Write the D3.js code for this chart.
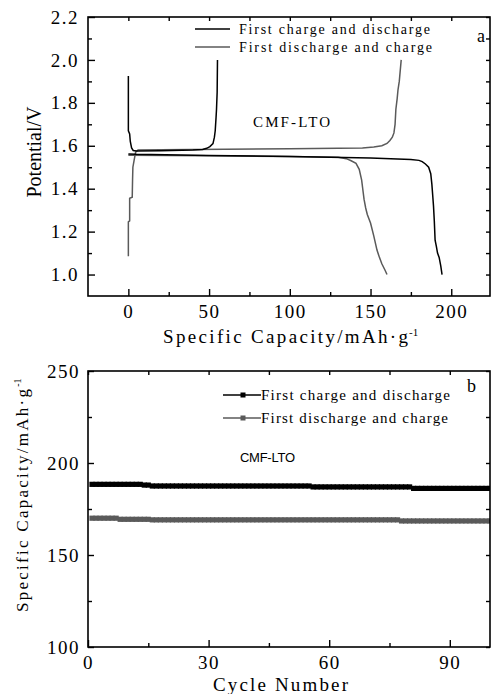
<!DOCTYPE html>
<html>
<head>
<meta charset="utf-8">
<script src="https://cdn.jsdelivr.net/npm/d3@7"></script>
<style>
  body { margin: 0; background: #fff; }
  svg { display: block; }
</style>
</head>
<body>
<script>
// ---- data ----

// panel a: potential vs specific capacity (capacity, volts)
var chargeDischargeCharge = [
  [0, 1.925], [0, 1.67], [0.8, 1.655], [1.2, 1.62], [2, 1.59], [3, 1.578], [5, 1.576],
  [20, 1.577], [40, 1.58], [46, 1.583], [48.5, 1.588], [50.5, 1.596], [52.4, 1.61],
  [53.3, 1.64], [53.8, 1.67], [54.3, 1.73], [54.6, 1.77], [55, 1.85], [55.2, 2.0]
];
var chargeDischargeDischarge = [
  [0, 1.562], [5, 1.56], [50, 1.555], [100, 1.55], [150, 1.543], [175, 1.536],
  [180, 1.532], [182, 1.526], [184, 1.515], [186, 1.5], [187.3, 1.47], [188, 1.42],
  [188.6, 1.36], [189, 1.32], [189.5, 1.25], [190, 1.16], [190.8, 1.13], [191.5, 1.1],
  [192.5, 1.08], [193.5, 1.04], [194.3, 1.0]
];
var dischargeChargeCharge = [
  [0, 1.085], [0, 1.245], [0.8, 1.25], [0.8, 1.355], [2.4, 1.36], [2.6, 1.44],
  [2.8, 1.5], [3.5, 1.53], [4.5, 1.57], [6, 1.58], [20, 1.582], [60, 1.584],
  [100, 1.586], [130, 1.588], [145, 1.59], [152, 1.594], [157, 1.6], [160.2, 1.611],
  [162, 1.625], [163.5, 1.64], [164.5, 1.66], [165.2, 1.7], [165.7, 1.77],
  [166.5, 1.82], [167, 1.86], [167.8, 1.9], [168.4, 1.95], [169, 2.0]
];
var dischargeChargeDischarge = [
  [0, 1.556], [50, 1.553], [100, 1.55], [130, 1.547], [135, 1.54], [138, 1.53],
  [141, 1.518], [143, 1.49], [144.5, 1.44], [145.5, 1.38], [146, 1.35], [147, 1.31],
  [148, 1.28], [150, 1.24], [152, 1.18], [154, 1.114], [155.5, 1.08], [157, 1.05],
  [159, 1.02], [160.2, 1.0]
];

// panel b: capacity per cycle (cycles 1..100)
var cycles = d3.range(1, 101);
var capChargeDischarge = [
  188.4, 188.4, 188.4, 188.4, 188.4, 188.4, 188.4, 188.4, 188.4, 188.4,
  188.4, 188.4, 188.4, 188.0, 188.0, 187.5, 187.5, 187.5, 187.5, 187.5,
  187.5, 187.5, 187.5, 187.5, 187.5, 187.5, 187.5, 187.5, 187.5, 187.5,
  187.5, 187.5, 187.5, 187.5, 187.5, 187.5, 187.5, 187.5, 187.5, 187.5,
  187.5, 187.5, 187.5, 187.5, 187.5, 187.5, 187.5, 187.5, 187.5, 187.5,
  187.5, 187.5, 187.5, 187.5, 187.5, 187.0, 187.0, 187.0, 187.0, 187.0,
  187.0, 187.0, 187.0, 187.0, 187.0, 187.0, 187.0, 187.0, 187.0, 187.0,
  187.0, 187.0, 187.0, 187.0, 187.0, 187.0, 187.0, 187.0, 187.0, 187.0,
  186.2, 186.2, 186.2, 186.2, 186.2, 186.2, 186.2, 186.2, 186.2, 186.2,
  186.2, 186.2, 186.2, 186.2, 186.2, 186.2, 186.2, 186.2, 186.2, 186.2
];
var capDischargeCharge = [
  170.0, 170.0, 170.0, 170.0, 170.0, 170.0, 170.0, 169.4, 169.4, 169.4,
  169.4, 169.4, 169.4, 169.4, 169.4, 169.1, 169.1, 169.1, 169.1, 169.1,
  169.1, 169.1, 169.1, 169.1, 169.1, 169.1, 169.1, 169.1, 169.1, 169.1,
  169.1, 169.1, 169.1, 169.1, 169.1, 169.1, 169.1, 169.1, 169.1, 169.1,
  169.1, 169.1, 169.1, 169.1, 169.1, 169.1, 169.1, 169.1, 169.1, 169.1,
  169.1, 169.1, 169.1, 169.1, 169.1, 169.1, 169.1, 169.1, 169.1, 169.1,
  169.1, 169.1, 169.1, 169.1, 169.1, 169.1, 169.1, 169.1, 169.1, 169.1,
  169.1, 169.1, 169.1, 169.1, 169.1, 169.1, 169.1, 168.5, 168.5, 168.5,
  168.5, 168.5, 168.5, 168.5, 168.5, 168.5, 168.5, 168.5, 168.5, 168.5,
  168.5, 168.5, 168.5, 168.5, 168.5, 168.5, 168.5, 168.5, 168.5, 168.5
];

// tick values
var aXMajor = [0, 50, 100, 150, 200];
var aXMinor = [25, 75, 125, 175];
var aYMajor = [1.0, 1.2, 1.4, 1.6, 1.8, 2.0, 2.2];
var aYMinor = [1.1, 1.3, 1.5, 1.7, 1.9, 2.1];
var bXMajor = [0, 30, 60, 90];
var bXMinor = [15, 45, 75];
var bYMajor = [100, 150, 200, 250];
var bYMinor = [125, 175, 225];

var legendA = ["First charge and discharge", "First discharge and charge"];
var legendB = ["First charge and discharge", "First discharge and charge"];

var BLACK = "#000", GRAY = "#5a5a5a";
var serif = "'Liberation Serif', 'Times New Roman', serif";
var sans = "'Liberation Sans', Arial, sans-serif";

var svg = d3.select("body").append("svg")
    .attr("width", 492)
    .attr("height", 694);

// small helper for fitted text
function label(g, x, y, str, size, len, family) {
  var t = g.append("text")
      .attr("x", x).attr("y", y)
      .attr("font-family", family || serif)
      .attr("font-size", size)
      .text(str);
  if (len) t.attr("textLength", len).attr("lengthAdjust", "spacing");
  return t;
}

function styleTicks(sel) {
  sel.select(".domain").remove();
  sel.selectAll("line").attr("stroke", "#000").attr("stroke-width", 1.4);
  sel.selectAll("text")
      .attr("font-family", serif)
      .attr("font-size", 19)
      .attr("fill", "#000")
      .style("letter-spacing", "1.5px");
}

// ================= panel a =================
var a = { left: 88, right: 490, top: 17, bottom: 296 };
var xa = d3.scaleLinear().domain([-25, 224]).range([a.left, a.right]);
var ya = d3.scaleLinear().domain([0.9, 2.2]).range([a.bottom, a.top]);

svg.append("g").attr("transform", "translate(0," + a.bottom + ")")
    .call(d3.axisBottom(xa).tickValues(aXMajor).tickSize(-7).tickPadding(9).tickFormat(d3.format("d")))
    .call(styleTicks);
svg.append("g").attr("transform", "translate(0," + a.bottom + ")")
    .call(d3.axisBottom(xa).tickValues(aXMinor).tickSize(-4).tickFormat(""))
    .call(styleTicks);
svg.append("g").attr("transform", "translate(0," + a.top + ")")
    .call(d3.axisTop(xa).tickValues(aXMajor.concat(aXMinor)).tickSize(-4).tickFormat(""))
    .call(styleTicks);
svg.append("g").attr("transform", "translate(" + a.left + ",0)")
    .call(d3.axisLeft(ya).tickValues(aYMajor).tickSize(-7).tickPadding(9).tickFormat(d3.format(".1f")))
    .call(styleTicks);
svg.append("g").attr("transform", "translate(" + a.left + ",0)")
    .call(d3.axisLeft(ya).tickValues(aYMinor).tickSize(-4).tickFormat(""))
    .call(styleTicks);
svg.append("g").attr("transform", "translate(" + a.right + ",0)")
    .call(d3.axisRight(ya).tickValues(aYMajor.concat(aYMinor)).tickSize(-4).tickFormat(""))
    .call(styleTicks);

svg.append("rect")
    .attr("x", a.left).attr("y", a.top)
    .attr("width", a.right - a.left).attr("height", a.bottom - a.top)
    .attr("fill", "none").attr("stroke", "#000").attr("stroke-width", 1.6);

var lineA = d3.line().x(function(d) { return xa(d[0]); }).y(function(d) { return ya(d[1]); });

var curvesA = [
  { pts: dischargeChargeDischarge, color: GRAY },
  { pts: dischargeChargeCharge, color: GRAY },
  { pts: chargeDischargeDischarge, color: BLACK },
  { pts: chargeDischargeCharge, color: BLACK }
];
svg.append("g").selectAll("path")
    .data(curvesA)
  .enter().append("path")
    .attr("d", function(d) { return lineA(d.pts); })
    .attr("fill", "none")
    .attr("stroke", function(d) { return d.color; })
    .attr("stroke-width", 1.5);

// legend a
var legA = svg.append("g");
legendA.forEach(function(name, i) {
  var y = 29 + i * 18;
  legA.append("line")
      .attr("x1", 195).attr("x2", 230).attr("y1", y).attr("y2", y)
      .attr("stroke", i === 0 ? BLACK : GRAY).attr("stroke-width", 1.5);
  label(legA, 239, y + 5, name, 14, i === 0 ? 191 : 193);
});
label(svg, 477, 42, "a", 18);
label(svg, 253, 127, "CMF-LTO", 15, 77);

// axis titles a
var ta = label(svg, 163, 343, "Specific Capacity/mAh\u00b7g", 19, 245);
svg.append("text")
    .attr("x", 409).attr("y", 336)
    .attr("font-family", serif).attr("font-size", 11)
    .text("-1");
svg.append("text")
    .attr("transform", "translate(41,152) rotate(-90)")
    .attr("text-anchor", "middle")
    .attr("font-family", serif).attr("font-size", 20)
    .text("Potential/V");

// ================= panel b =================
var b = { left: 88, right: 490, top: 371, bottom: 647 };
var xb = d3.scaleLinear().domain([0, 100]).range([b.left, b.right]);
var yb = d3.scaleLinear().domain([100, 250]).range([b.bottom, b.top]);

svg.append("g").attr("transform", "translate(0," + b.bottom + ")")
    .call(d3.axisBottom(xb).tickValues(bXMajor).tickSize(-7).tickPadding(9).tickFormat(d3.format("d")))
    .call(styleTicks);
svg.append("g").attr("transform", "translate(0," + b.bottom + ")")
    .call(d3.axisBottom(xb).tickValues(bXMinor).tickSize(-4).tickFormat(""))
    .call(styleTicks);
svg.append("g").attr("transform", "translate(0," + b.top + ")")
    .call(d3.axisTop(xb).tickValues(bXMajor.concat(bXMinor)).tickSize(-4).tickFormat(""))
    .call(styleTicks);
svg.append("g").attr("transform", "translate(" + b.left + ",0)")
    .call(d3.axisLeft(yb).tickValues(bYMajor).tickSize(-6).tickPadding(8).tickFormat(d3.format("d")))
    .call(styleTicks);
svg.append("g").attr("transform", "translate(" + b.left + ",0)")
    .call(d3.axisLeft(yb).tickValues(bYMinor).tickSize(-4).tickFormat(""))
    .call(styleTicks);
svg.append("g").attr("transform", "translate(" + b.right + ",0)")
    .call(d3.axisRight(yb).tickValues(bYMajor.concat(bYMinor)).tickSize(-4).tickFormat(""))
    .call(styleTicks);

svg.append("clipPath").attr("id", "clipB")
  .append("rect")
    .attr("x", b.left).attr("y", b.top)
    .attr("width", b.right - b.left).attr("height", b.bottom - b.top);

var seriesB = [
  { vals: capChargeDischarge, color: BLACK },
  { vals: capDischargeCharge, color: GRAY }
];
var plotB = svg.append("g").attr("clip-path", "url(#clipB)");
var lineB = d3.line().x(function(d, i) { return xb(cycles[i]); }).y(function(d) { return yb(d); });

seriesB.forEach(function(s) {
  plotB.append("path")
      .attr("d", lineB(s.vals))
      .attr("fill", "none").attr("stroke", s.color).attr("stroke-width", 1.2);
  plotB.append("g").selectAll("rect")
      .data(s.vals)
    .enter().append("rect")
      .attr("x", function(d, i) { return xb(cycles[i]) - 2.6; })
      .attr("y", function(d) { return yb(d) - 2.6; })
      .attr("width", 5.2).attr("height", 5.2)
      .attr("fill", s.color);
});

svg.append("rect")
    .attr("x", b.left).attr("y", b.top)
    .attr("width", b.right - b.left).attr("height", b.bottom - b.top)
    .attr("fill", "none").attr("stroke", "#000").attr("stroke-width", 1.6);

// legend b
var legB = svg.append("g");
legendB.forEach(function(name, i) {
  var y = 395 + i * 23;
  var c = i === 0 ? BLACK : GRAY;
  legB.append("line")
      .attr("x1", 223).attr("x2", 261).attr("y1", y).attr("y2", y)
      .attr("stroke", c).attr("stroke-width", 1.4);
  legB.append("rect")
      .attr("x", 240.5).attr("y", y - 2.5).attr("width", 5).attr("height", 5)
      .attr("fill", c);
  label(legB, 261, y + 5, name, 15, i === 0 ? 189 : 187);
});
label(svg, 467, 392, "b", 18);
label(svg, 240, 462, "CMF-LTO", 13, 55, sans);

// axis titles b
label(svg, 213, 691, "Cycle Number", 19, 135);
var yt = svg.append("text")
    .attr("transform", "translate(28,612) rotate(-90)")
    .attr("font-family", serif).attr("font-size", 17);
yt.append("tspan").attr("textLength", 223).attr("lengthAdjust", "spacing")
    .text("Specific Capacity/mAh\u00b7g");
yt.append("tspan").attr("font-size", 10).attr("dy", -7).text("-1");
</script>
</body>
</html>
